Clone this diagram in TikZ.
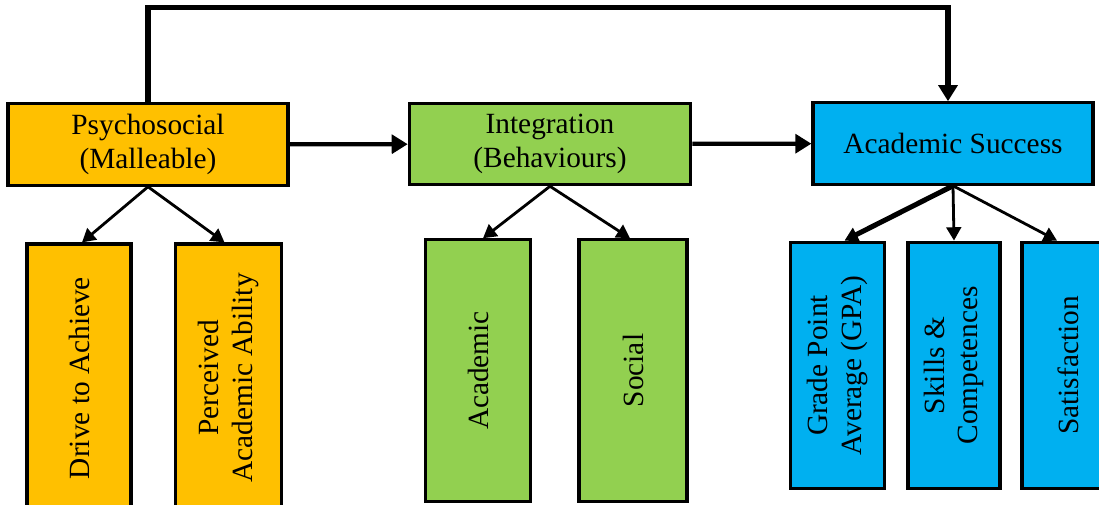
\documentclass[tikz,border=0pt]{standalone}
\usepackage{fontspec}
\setmainfont{Liberation Serif}
\usepackage{xcolor}
\usetikzlibrary{arrows.meta,positioning,calc}
\definecolor{PsyOrange}{RGB}{255,192,0}
\definecolor{IntGreen}{RGB}{146,208,80}
\definecolor{SucBlue}{RGB}{0,176,240}

\begin{document}
\begin{tikzpicture}[
    x=0.75pt, y=-0.75pt,
    font=\fontsize{22}{25}\selectfont,
    box/.style={draw=black, line width=2.4pt, align=center, inner sep=2pt},
    topbox/.style={box, minimum width=210pt, minimum height=61pt},
    vbox/.style={box, rotate=90},
    arr/.style={-{Triangle[length=12pt,width=14pt]}, line width=3.2pt},
    sub/.style={-{Triangle[length=10pt,width=11pt]}, line width=2.1pt},
  ]
  \useasboundingbox (0,0) rectangle (1099,504);

  % Obere Reihe
  \node[topbox, fill=PsyOrange] (psych) at (148,144.5) {Psychosocial\\(Malleable)};
  \node[topbox, fill=IntGreen, minimum width=211pt] (integ) at (550,144) {Integration\\(Behaviours)};
  \node[topbox, fill=SucBlue] (succ) at (953,143.5) {Academic Success};

  % Untere Reihe (gedreht)
  \node[vbox, fill=PsyOrange, minimum width=201pt, minimum height=78pt] (drive) at (79,378) {Drive to Achieve};
  \node[vbox, fill=PsyOrange, minimum width=201pt, minimum height=79pt] (perc) at (228.5,378) {Perceived\\Academic Ability};
  \node[vbox, fill=IntGreen, minimum width=196pt, minimum height=79pt] (acad) at (478,370.5) {Academic};
  \node[vbox, fill=IntGreen, minimum width=196pt, minimum height=81pt] (soc) at (633,370.5) {Social};
  \node[vbox, fill=SucBlue, minimum width=185pt, minimum height=70pt] (gpa) at (837.5,365.5) {Grade Point\\Average (GPA)};
  \node[vbox, fill=SucBlue, minimum width=185pt, minimum height=69pt] (skill) at (954,365.5) {Skills \&\\Competences};
  \node[vbox, fill=SucBlue, minimum width=185pt, minimum height=69pt] (satis) at (1068,365.5) {Satisfaction};

  % Hauptpfade
  \draw[arr] (psych) -- (integ);
  \draw[arr] (integ) -- (succ);
  \coordinate (sucin) at ($(succ.north)+(-5,0)$);
  \draw[arr, line width=3.8pt] (psych.north) -- ++(0,-95) -| (sucin);

  % Verzweigungen
  \draw[sub] (psych.south) -- ($(drive.east)+(3,0)$);
  \draw[sub] (psych.south) -- ($(perc.east)+(-4,0)$);
  \draw[sub] (integ.south) -- ($(acad.east)+(5,0)$);
  \draw[sub] (integ.south) -- ($(soc.east)+(-3,0)$);
  \draw[sub, line width=3.8pt] (succ.south) -- ($(gpa.east)+(7,0)$);
  \draw[sub] (succ.south) -- (skill.east);
  \draw[sub] (succ.south) -- ($(satis.east)+(-11,0)$);

\end{tikzpicture}
\end{document}
